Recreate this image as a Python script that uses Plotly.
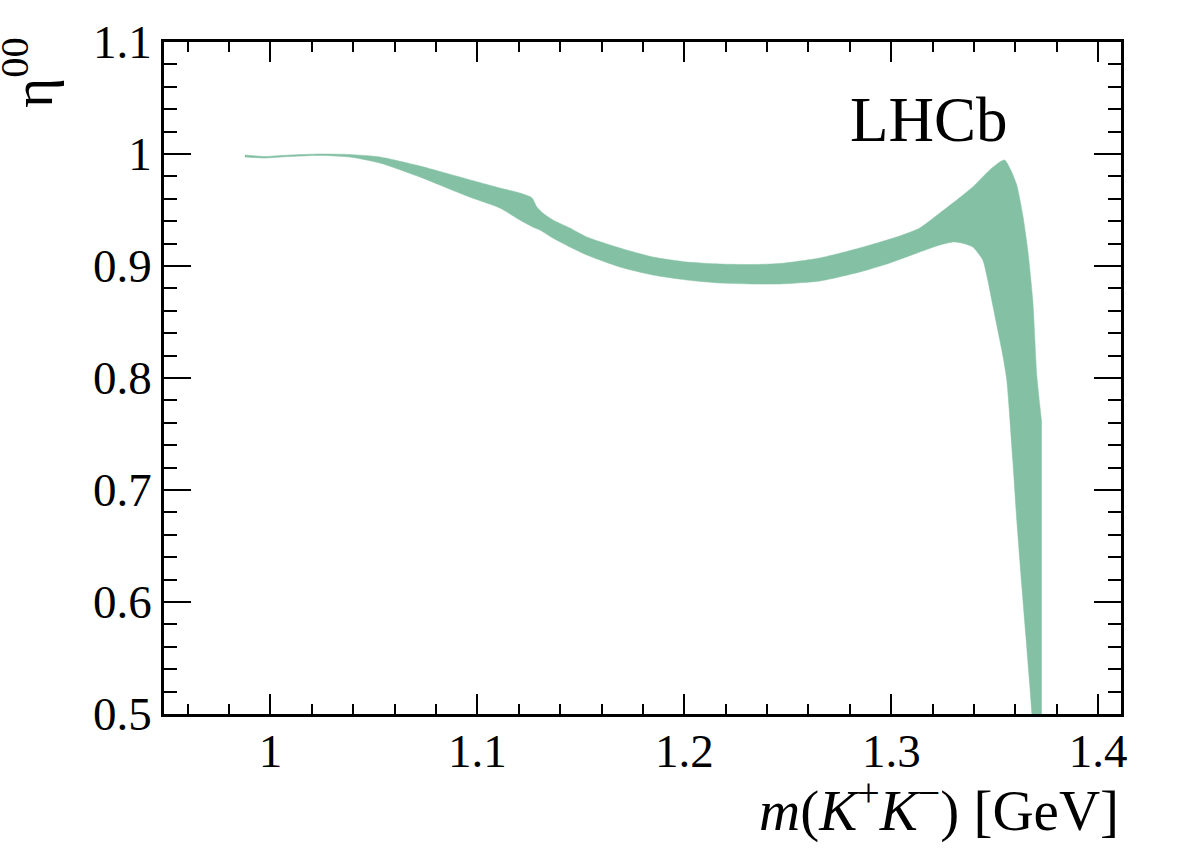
import plotly.graph_objects as go

# Upper edge of the band
x_up = [0.98768, 0.99734, 1.00942, 1.02391, 1.03841, 1.05290, 1.07222, 1.09493, 1.11087,
        1.12053, 1.12585, 1.12681, 1.12874, 1.13164, 1.13647, 1.14469, 1.15290, 1.16884,
        1.18478, 1.20121, 1.21715, 1.23309, 1.24614, 1.26546, 1.28478, 1.30411, 1.31377,
        1.32343, 1.33164, 1.33937, 1.34758, 1.35242, 1.35483, 1.35773, 1.36063, 1.36353,
        1.36594, 1.36836, 1.37029, 1.37174, 1.37271]
y_up = [0.99911, 0.99777, 0.99911, 1.00000, 0.99955, 0.99732, 0.98929, 0.97768, 0.96964,
        0.96518, 0.96161, 0.95982, 0.95268, 0.94732, 0.94107, 0.93393, 0.92589, 0.91607,
        0.90804, 0.90357, 0.90179, 0.90134, 0.90223, 0.90714, 0.91607, 0.92679, 0.93393,
        0.94732, 0.95893, 0.97054, 0.98571, 0.99286, 0.99464, 0.98571, 0.97232, 0.94554,
        0.91429, 0.86964, 0.80268, 0.77589, 0.75982]

# Lower edge of the band
x_lo = [0.98768, 0.99734, 1.00942, 1.02391, 1.03841, 1.05290, 1.07222, 1.09493, 1.11087,
        1.12053, 1.12681, 1.13019, 1.13647, 1.14469, 1.15290, 1.16884, 1.18478, 1.20121,
        1.21715, 1.23309, 1.24614, 1.26546, 1.28478, 1.29928, 1.31377, 1.32343, 1.32971,
        1.33406, 1.33937, 1.34420, 1.34662, 1.34903, 1.35145, 1.35386, 1.35580, 1.35870,
        1.36063, 1.36304, 1.36498, 1.36691, 1.36787, 1.36981, 1.37271]
y_lo = [0.99732, 0.99643, 0.99777, 0.99866, 0.99732, 0.99196, 0.97946, 0.96250, 0.95179,
        0.94107, 0.93482, 0.93214, 0.92500, 0.91696, 0.90982, 0.89911, 0.89196, 0.88750,
        0.88482, 0.88393, 0.88393, 0.88661, 0.89464, 0.90268, 0.91250, 0.91875, 0.92143,
        0.92054, 0.91696, 0.90536, 0.88750, 0.86518, 0.84286, 0.82054, 0.79821, 0.72679,
        0.67321, 0.61518, 0.57054, 0.52589, 0.50179, 0.45446, 0.38304]

x_ticks = [1.0, 1.1, 1.2, 1.3, 1.4]
x_ticklabels = ["1", "1.1", "1.2", "1.3", "1.4"]
y_ticks = [0.5, 0.6, 0.7, 0.8, 0.9, 1.0, 1.1]
y_ticklabels = ["0.5", "0.6", "0.7", "0.8", "0.9", "1", "1.1"]

FILL = "rgb(132,193,164)"
FONT = "Liberation Serif"

fig = go.Figure()
fig.add_trace(go.Scatter(x=x_lo, y=y_lo, mode="lines",
                         line=dict(color=FILL, width=0.5, shape="spline", smoothing=0.6),
                         hoverinfo="skip", showlegend=False))
fig.add_trace(go.Scatter(x=x_up, y=y_up, mode="lines", fill="tonexty", fillcolor=FILL,
                         line=dict(color=FILL, width=0.5, shape="spline", smoothing=0.6),
                         hoverinfo="skip", showlegend=False))

axis_common = dict(showline=True, linecolor="black", linewidth=2.5, mirror="allticks",
                   ticks="inside", tickcolor="black", tickwidth=2, showgrid=False,
                   zeroline=False, tickfont=dict(family=FONT, size=47, color="black"))

fig.update_xaxes(range=[0.9486, 1.411], tickvals=x_ticks, ticktext=x_ticklabels,
                 ticklen=20, ticklabelstandoff=-6,
                 minor=dict(ticks="inside", dtick=0.02, tick0=0.0, ticklen=10,
                            tickwidth=2, tickcolor="black", showgrid=False),
                 **axis_common)
fig.update_yaxes(range=[0.5, 1.1], tickvals=y_ticks, ticktext=y_ticklabels,
                 ticklen=27,
                 minor=dict(ticks="inside", dtick=0.02, tick0=0.0, ticklen=13,
                            tickwidth=2, tickcolor="black", showgrid=False),
                 **axis_common)

fig.add_annotation(text="LHCb", xref="paper", yref="paper", x=0.715, y=0.884,
                   xanchor="left", yanchor="middle", showarrow=False,
                   font=dict(family=FONT, size=63, color="black"))
fig.add_annotation(text="<i>m</i>(<i>K</i><sup>+</sup><i>K</i><sup>\u2212</sup>) [GeV]",
                   xref="paper", yref="paper", x=1.0, y=-0.08,
                   xanchor="right", yanchor="top", showarrow=False,
                   font=dict(family=FONT, size=57, color="black"))
fig.add_annotation(text="\u03b7<sup>00</sup>", xref="paper", yref="paper",
                   x=-0.182, y=1.01, xanchor="left", yanchor="top", textangle=-90,
                   showarrow=False, font=dict(family=FONT, size=58, color="black"))

fig.update_layout(width=1182, height=850, plot_bgcolor="white", paper_bgcolor="white",
                  margin=dict(l=164, r=61, t=42, b=136), showlegend=False)

fig.write_html("out.html")
